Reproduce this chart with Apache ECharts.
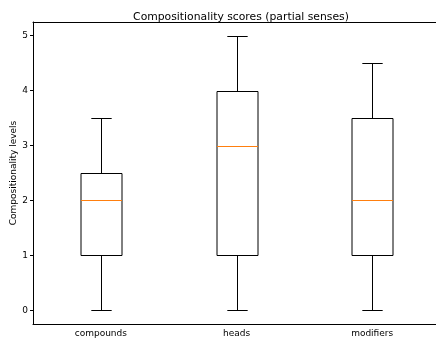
<!DOCTYPE html>
<html>
<head>
<meta charset="utf-8">
<script src="https://cdn.jsdelivr.net/npm/echarts@6/dist/echarts.min.js"></script>
<style>
	html, body { margin: 0; padding: 0; background: #fff; }
	#chart { width: 436px; height: 345px; }
</style>
</head>
<body>
<div id="chart"></div>
<script>
// 分类 / 箱线图五数
var categories = ['compounds', 'heads', 'modifiers'];
var mins = [0, 0, 0];
var q1s = [1, 1, 1];
var medians = [2, 3, 2];
var q3s = [2.5, 4, 3.5];
var maxs = [3.5, 5, 4.5];
var yTicks = [0, 1, 2, 3, 4, 5];

var BoxChart = {

	init: function () {
		this.chart = echarts.init(document.getElementById('chart'));
		this.render();
	},

	// 组装数据
	buildData: function () {
		var list = [];
		for (var i = 0; i < categories.length; i++) {
			list.push([i, mins[i], q1s[i], medians[i], q3s[i], maxs[i]]);
		}
		return list;
	},

	// 画一个箱子
	renderItem: function (params, api) {
		var idx = api.value(0);
		var band = api.size([1, 0])[0];
		var half = band * 0.15;     // 箱宽 0.3
		var capHalf = half / 2;     // 须线端点宽度为箱宽一半
		var px = function (v) { return api.coord([idx, v]); };
		var x = Math.round(px(0)[0]) + 0.5;
		var yMin = Math.round(px(api.value(1))[1]) + 0.5;
		var yQ1 = Math.round(px(api.value(2))[1]) + 0.5;
		var yMed = Math.round(px(api.value(3))[1]) + 0.5;
		var yQ3 = Math.round(px(api.value(4))[1]) + 0.5;
		var yMax = Math.round(px(api.value(5))[1]) + 0.5;
		var line = { stroke: '#000', lineWidth: 1 };
		var seg = function (x1, y1, x2, y2, style) {
			return { type: 'line', shape: { x1: x1, y1: y1, x2: x2, y2: y2 }, style: style || line };
		};
		return {
			type: 'group',
			children: [
				seg(x, yQ3, x, yMax),
				seg(x, yQ1, x, yMin),
				seg(x - capHalf, yMax, x + capHalf, yMax),
				seg(x - capHalf, yMin, x + capHalf, yMin),
				{
					type: 'rect',
					shape: { x: Math.round(x - half), y: yQ3, width: Math.round(half * 2), height: yQ1 - yQ3 },
					style: { fill: '#fff', stroke: '#000', lineWidth: 1 }
				},
				seg(Math.round(x - half), yMed, Math.round(x - half) + Math.round(half * 2), yMed, { stroke: '#ff7f0e', lineWidth: 1 })
			]
		};
	},

	render: function () {
		var font = 'DejaVu Sans';
		var option = {
			animation: false,
			title: {
				text: 'Compositionality scores (partial senses)',
				left: 236,
				top: 7,
				textAlign: 'center',
				textStyle: { fontFamily: font, fontSize: 10.8, fontWeight: 'normal', color: '#000' }
			},
			grid: { left: 33, right: -4, top: 22, bottom: 21, outerBoundsMode: 'none' },
			xAxis: [{
				type: 'category',
				data: categories,
				position: 'bottom',
				axisLine: { onZero: false, lineStyle: { color: '#000', width: 1 } },
				axisTick: { alignWithLabel: true, length: 3, lineStyle: { color: '#000' } },
				axisLabel: { color: '#000', fontFamily: font, fontSize: 9, margin: 5 },
				splitLine: { show: false }
			}, {
				type: 'category',
				data: categories,
				position: 'top',
				axisLine: { onZero: false, lineStyle: { color: '#000', width: 1 } },
				axisTick: { show: false },
				axisLabel: { show: false }
			}],
			yAxis: {
				type: 'value',
				min: -0.25,
				max: 5.25,
				name: 'Compositionality levels',
				nameLocation: 'middle',
				nameGap: 15,
				nameMoveOverlap: false,
				nameTextStyle: { color: '#000', fontFamily: font, fontSize: 9 },
				axisLine: { show: true, onZero: false, lineStyle: { color: '#000', width: 1 } },
				axisTick: { show: true, length: 3, customValues: yTicks, lineStyle: { color: '#000' } },
				axisLabel: { color: '#000', fontFamily: font, fontSize: 9, margin: 5, customValues: yTicks },
				splitLine: { show: false }
			},
			series: [{
				type: 'custom',
				renderItem: this.renderItem,
				encode: { x: 0, y: [1, 2, 3, 4, 5] },
				data: this.buildData()
			}]
		};
		this.chart.setOption(option);
	}
};

BoxChart.init();
</script>
</body>
</html>
